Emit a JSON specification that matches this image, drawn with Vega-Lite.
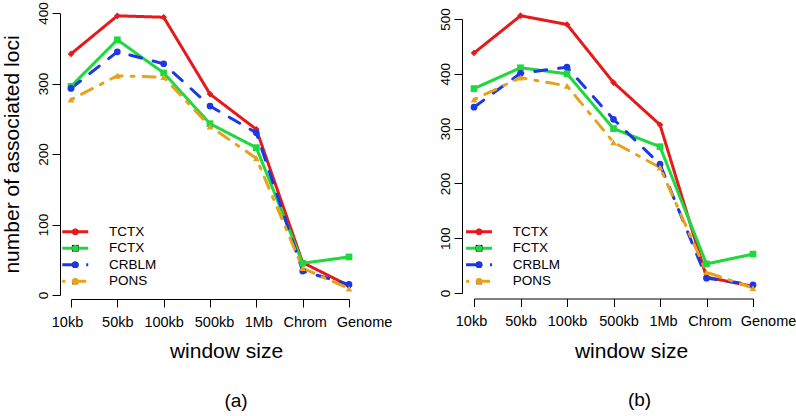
{
  "$schema": "https://vega.github.io/schema/vega-lite/v6.json",
  "background": "white",
  "padding": {"left": 0, "top": 1, "right": 0, "bottom": 0},
  "config": {
    "view": {"stroke": null},
    "font": "Liberation Sans",
    "axis": {
      "grid": false,
      "domainColor": "black",
      "tickColor": "black",
      "labelColor": "black",
      "titleColor": "black",
      "labelFont": "Liberation Sans",
      "titleFont": "Liberation Sans",
      "titleFontWeight": "normal",
      "tickSize": 8
    },
    "legend": {"labelFontSize": 13.5, "labelFont": "Liberation Sans", "labelColor": "black"},
    "title": {"font": "Liberation Sans", "fontWeight": "normal", "color": "black"}
  },
  "datasets": {
    "loci": [
      {"panel": "a", "series": "TCTX", "window": "10kb", "loci": 342},
      {"panel": "a", "series": "TCTX", "window": "50kb", "loci": 396},
      {"panel": "a", "series": "TCTX", "window": "100kb", "loci": 394},
      {"panel": "a", "series": "TCTX", "window": "500kb", "loci": 285},
      {"panel": "a", "series": "TCTX", "window": "1Mb", "loci": 235},
      {"panel": "a", "series": "TCTX", "window": "Chrom", "loci": 46},
      {"panel": "a", "series": "TCTX", "window": "Genome", "loci": 13},
      {"panel": "a", "series": "FCTX", "window": "10kb", "loci": 296},
      {"panel": "a", "series": "FCTX", "window": "50kb", "loci": 362},
      {"panel": "a", "series": "FCTX", "window": "100kb", "loci": 315},
      {"panel": "a", "series": "FCTX", "window": "500kb", "loci": 243},
      {"panel": "a", "series": "FCTX", "window": "1Mb", "loci": 209},
      {"panel": "a", "series": "FCTX", "window": "Chrom", "loci": 45},
      {"panel": "a", "series": "FCTX", "window": "Genome", "loci": 54},
      {"panel": "a", "series": "CRBLM", "window": "10kb", "loci": 293},
      {"panel": "a", "series": "CRBLM", "window": "50kb", "loci": 345},
      {"panel": "a", "series": "CRBLM", "window": "100kb", "loci": 328},
      {"panel": "a", "series": "CRBLM", "window": "500kb", "loci": 268},
      {"panel": "a", "series": "CRBLM", "window": "1Mb", "loci": 230},
      {"panel": "a", "series": "CRBLM", "window": "Chrom", "loci": 34},
      {"panel": "a", "series": "CRBLM", "window": "Genome", "loci": 15},
      {"panel": "a", "series": "PONS", "window": "10kb", "loci": 277},
      {"panel": "a", "series": "PONS", "window": "50kb", "loci": 311},
      {"panel": "a", "series": "PONS", "window": "100kb", "loci": 309},
      {"panel": "a", "series": "PONS", "window": "500kb", "loci": 239},
      {"panel": "a", "series": "PONS", "window": "1Mb", "loci": 194},
      {"panel": "a", "series": "PONS", "window": "Chrom", "loci": 38},
      {"panel": "a", "series": "PONS", "window": "Genome", "loci": 9},
      {"panel": "b", "series": "TCTX", "window": "10kb", "loci": 438},
      {"panel": "b", "series": "TCTX", "window": "50kb", "loci": 506},
      {"panel": "b", "series": "TCTX", "window": "100kb", "loci": 490},
      {"panel": "b", "series": "TCTX", "window": "500kb", "loci": 384},
      {"panel": "b", "series": "TCTX", "window": "1Mb", "loci": 307},
      {"panel": "b", "series": "TCTX", "window": "Chrom", "loci": 29},
      {"panel": "b", "series": "TCTX", "window": "Genome", "loci": 12},
      {"panel": "b", "series": "FCTX", "window": "10kb", "loci": 373},
      {"panel": "b", "series": "FCTX", "window": "50kb", "loci": 411},
      {"panel": "b", "series": "FCTX", "window": "100kb", "loci": 400},
      {"panel": "b", "series": "FCTX", "window": "500kb", "loci": 300},
      {"panel": "b", "series": "FCTX", "window": "1Mb", "loci": 267},
      {"panel": "b", "series": "FCTX", "window": "Chrom", "loci": 53},
      {"panel": "b", "series": "FCTX", "window": "Genome", "loci": 71},
      {"panel": "b", "series": "CRBLM", "window": "10kb", "loci": 339},
      {"panel": "b", "series": "CRBLM", "window": "50kb", "loci": 401},
      {"panel": "b", "series": "CRBLM", "window": "100kb", "loci": 412},
      {"panel": "b", "series": "CRBLM", "window": "500kb", "loci": 317},
      {"panel": "b", "series": "CRBLM", "window": "1Mb", "loci": 235},
      {"panel": "b", "series": "CRBLM", "window": "Chrom", "loci": 27},
      {"panel": "b", "series": "CRBLM", "window": "Genome", "loci": 15},
      {"panel": "b", "series": "PONS", "window": "10kb", "loci": 353},
      {"panel": "b", "series": "PONS", "window": "50kb", "loci": 393},
      {"panel": "b", "series": "PONS", "window": "100kb", "loci": 378},
      {"panel": "b", "series": "PONS", "window": "500kb", "loci": 275},
      {"panel": "b", "series": "PONS", "window": "1Mb", "loci": 229},
      {"panel": "b", "series": "PONS", "window": "Chrom", "loci": 38},
      {"panel": "b", "series": "PONS", "window": "Genome", "loci": 9}
    ]
  },
  "data": {"name": "loci"},
  "bounds": "flush",
  "spacing": 125,
  "resolve": {
    "scale": {"stroke": "independent", "fill": "independent", "shape": "independent", "strokeDash": "independent"},
    "legend": {"stroke": "independent", "fill": "independent", "shape": "independent", "strokeDash": "independent"}
  },
  "hconcat": [
    {
      "width": 278,
      "height": 282,
      "title": {"text": "(a)", "orient": "bottom", "fontSize": 19, "dx": 26, "offset": 30},
      "transform": [{"filter": "datum.panel == 'a'"}],
      "encoding": {
        "x": {
          "field": "window", "type": "ordinal",
          "sort": ["10kb", "50kb", "100kb", "500kb", "1Mb", "Chrom", "Genome"],
          "scale": {"type": "point", "padding": 0},
          "axis": {
            "title": "window size", "titleFontSize": 21, "titleX": 155, "titlePadding": 12,
            "labelFontSize": 14.5, "labelAngle": 0, "labelPadding": 8, "offset": 4,
            "labelOffset": {"condition": [
              {"test": "datum.value == 'Genome'", "value": 15},
              {"test": "datum.value == '10kb'", "value": -4},
              {"test": "datum.value == '500kb'", "value": 4},
              {"test": "datum.value == '1Mb'", "value": 2},
              {"test": "datum.value == 'Chrom'", "value": 2}
            ], "value": 0}
          }
        },
        "y": {
          "field": "loci", "type": "quantitative",
          "scale": {"domain": [0, 400], "nice": false, "zero": true},
          "axis": {
            "title": "number of associated loci", "titleFontSize": 21, "titlePadding": 14,
            "values": [0, 100, 200, 300, 400], "offset": 11,
            "labelAngle": 270, "labelAlign": "center", "labelBaseline": "bottom",
            "labelFontSize": 13.5, "labelPadding": 2
          }
        }
      },
      "layer": [
        {
          "mark": {"type": "line", "strokeWidth": 3, "strokeCap": "round"},
          "encoding": {
            "stroke": {
              "field": "series", "type": "nominal",
              "scale": {"domain": ["TCTX", "FCTX", "CRBLM", "PONS"], "range": ["#e41a1c", "#1fd83e", "#1b38e6", "#e8a21a"]},
              "legend": {"orient": "none", "legendX": -2.5, "legendY": 212, "title": null, "labelFontSize": 13.5, "symbolType": "M-4.33,0L4.33,0", "symbolSize": 36, "symbolStrokeWidth": 3, "labelOffset": 27, "rowPadding": 1.5, "padding": 0, "zindex": 0}
            },
            "strokeDash": {
              "field": "series", "type": "nominal",
              "scale": {"domain": ["TCTX", "FCTX", "CRBLM", "PONS"], "range": [[1, 0], [1, 0], [12, 12], [3, 9, 12, 9]]},
              "legend": {"orient": "none", "legendX": -2.5, "legendY": 212, "title": null, "labelFontSize": 13.5, "symbolType": "M-4.33,0L4.33,0", "symbolSize": 36, "symbolStrokeWidth": 3, "labelOffset": 27, "rowPadding": 1.5, "padding": 0, "zindex": 0}
            }
          }
        },
        {
          "mark": {"type": "point", "filled": true, "opacity": 1, "size": 45},
          "encoding": {
            "fill": {
              "field": "series", "type": "nominal",
              "sort": ["TCTX", "FCTX", "CRBLM", "PONS"],
              "scale": {"range": ["#e41a1c", "#1fd83e", "#1b38e6", "#e8a21a"]},
              "legend": {"orient": "none", "legendX": -2.5, "legendY": 212, "title": null, "labelFontSize": 13.5, "labelOpacity": 0, "symbolSize": 45, "symbolStrokeWidth": 0, "labelOffset": 27, "rowPadding": 1.5, "padding": 0, "zindex": 1}
            },
            "shape": {
              "field": "series", "type": "nominal",
              "sort": ["TCTX", "FCTX", "CRBLM", "PONS"],
              "scale": {"range": ["diamond", "square", "circle", "triangle-up"]},
              "legend": {"orient": "none", "legendX": -2.5, "legendY": 212, "title": null, "labelFontSize": 13.5, "labelOpacity": 0, "symbolSize": 45, "symbolStrokeWidth": 0, "labelOffset": 27, "rowPadding": 1.5, "padding": 0, "zindex": 1}
            }
          }
        }
      ]
    },
    {
      "width": 279,
      "height": 282,
      "title": {"text": "(b)", "orient": "bottom", "fontSize": 19, "dx": 26, "offset": 30},
      "transform": [{"filter": "datum.panel == 'b'"}],
      "encoding": {
        "x": {
          "field": "window", "type": "ordinal",
          "sort": ["10kb", "50kb", "100kb", "500kb", "1Mb", "Chrom", "Genome"],
          "scale": {"type": "point", "padding": 0},
          "axis": {
            "title": "window size", "titleFontSize": 21, "titleX": 157, "titlePadding": 12,
            "labelFontSize": 14.5, "labelAngle": 0, "labelPadding": 8, "offset": 3.5,
            "labelOffset": {"condition": [
              {"test": "datum.value == 'Genome'", "value": 15},
              {"test": "datum.value == '10kb'", "value": -3},
              {"test": "datum.value == '500kb'", "value": 5},
              {"test": "datum.value == '1Mb'", "value": 3},
              {"test": "datum.value == 'Chrom'", "value": 3}
            ], "value": 0}
          }
        },
        "y": {
          "field": "loci", "type": "quantitative",
          "scale": {"domain": [0, 500], "nice": false, "zero": true, "range": [280, 6]},
          "axis": {
            "title": null,
            "values": [0, 100, 200, 300, 400, 500], "offset": 12,
            "labelAngle": 270, "labelAlign": "center", "labelBaseline": "bottom",
            "labelFontSize": 13.5, "labelPadding": 2
          }
        }
      },
      "layer": [
        {
          "mark": {"type": "line", "strokeWidth": 3, "strokeCap": "round"},
          "encoding": {
            "stroke": {
              "field": "series", "type": "nominal",
              "scale": {"domain": ["TCTX", "FCTX", "CRBLM", "PONS"], "range": ["#e41a1c", "#1fd83e", "#1b38e6", "#e8a21a"]},
              "legend": {"orient": "none", "legendX": -1.7, "legendY": 212, "title": null, "labelFontSize": 13.5, "symbolType": "M-4.33,0L4.33,0", "symbolSize": 36, "symbolStrokeWidth": 3, "labelOffset": 27, "rowPadding": 1.5, "padding": 0, "zindex": 0}
            },
            "strokeDash": {
              "field": "series", "type": "nominal",
              "scale": {"domain": ["TCTX", "FCTX", "CRBLM", "PONS"], "range": [[1, 0], [1, 0], [12, 12], [3, 9, 12, 9]]},
              "legend": {"orient": "none", "legendX": -1.7, "legendY": 212, "title": null, "labelFontSize": 13.5, "symbolType": "M-4.33,0L4.33,0", "symbolSize": 36, "symbolStrokeWidth": 3, "labelOffset": 27, "rowPadding": 1.5, "padding": 0, "zindex": 0}
            }
          }
        },
        {
          "mark": {"type": "point", "filled": true, "opacity": 1, "size": 45},
          "encoding": {
            "fill": {
              "field": "series", "type": "nominal",
              "sort": ["TCTX", "FCTX", "CRBLM", "PONS"],
              "scale": {"range": ["#e41a1c", "#1fd83e", "#1b38e6", "#e8a21a"]},
              "legend": {"orient": "none", "legendX": -1.7, "legendY": 212, "title": null, "labelFontSize": 13.5, "labelOpacity": 0, "symbolSize": 45, "symbolStrokeWidth": 0, "labelOffset": 27, "rowPadding": 1.5, "padding": 0, "zindex": 1}
            },
            "shape": {
              "field": "series", "type": "nominal",
              "sort": ["TCTX", "FCTX", "CRBLM", "PONS"],
              "scale": {"range": ["diamond", "square", "circle", "triangle-up"]},
              "legend": {"orient": "none", "legendX": -1.7, "legendY": 212, "title": null, "labelFontSize": 13.5, "labelOpacity": 0, "symbolSize": 45, "symbolStrokeWidth": 0, "labelOffset": 27, "rowPadding": 1.5, "padding": 0, "zindex": 1}
            }
          }
        }
      ]
    }
  ]
}
